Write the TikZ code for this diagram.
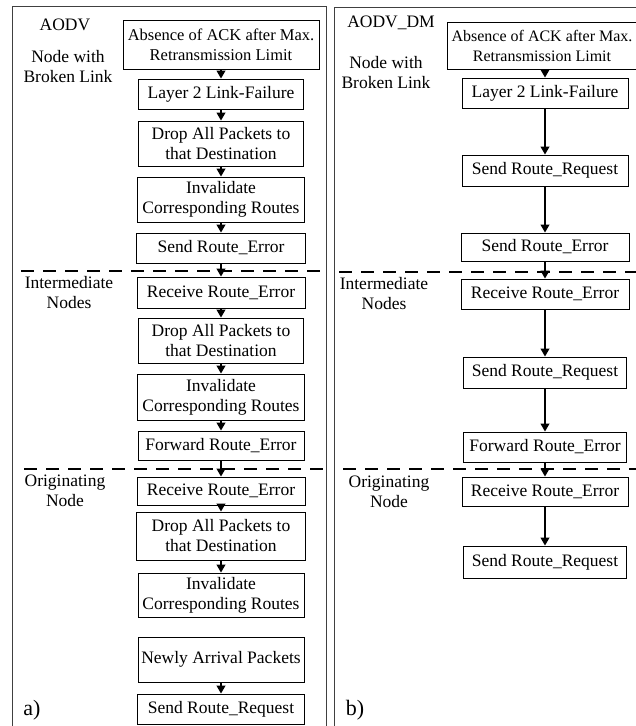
\documentclass[tikz,border=0pt]{standalone}
\usepackage{fontspec}
\setmainfont{Liberation Serif}
\usetikzlibrary{arrows.meta}
\begin{document}
\begin{tikzpicture}[x=1pt,y=-1pt,
  box/.style={draw, line width=1pt, inner sep=0pt, align=center, font=\fontsize{17.5}{20}\selectfont},
  wide/.style={font=\fontsize{16.5}{20}\selectfont},
  lbl/.style={align=center, inner sep=0pt, font=\fontsize{17.5}{20}\selectfont},
  big/.style={inner sep=0pt, font=\fontsize{22}{24}\selectfont},
  arr/.style={line width=1.1pt, -{Triangle[width=9pt,length=8pt]}},
  sep/.style={line width=1.2pt, dash pattern=on 13pt off 9pt},
  panel/.style={line width=0.9pt, draw=black!75}]
\useasboundingbox (0,0) rectangle (636,726);
\clip (0,0) rectangle (636,726);
\fill[white] (0,0) rectangle (636,726);
% panels
\draw[panel] (12,740) -- (12,6) -- (326,6) -- (326,740);
\draw[panel] (334,740) -- (334,7) -- (660,7);
% separators
\draw[sep] (21,271) -- (326,271);
\draw[sep] (24,469) -- (326,469);
\draw[sep] (339,272) -- (640,272);
\draw[sep] (343,469) -- (640,469);
% left labels
\node[lbl] (la) at (65,25) {AODV};
\node[lbl] (lb) at (68,67) {Node with\\Broken Link};
\node[lbl] (lc) at (69,292.5) {Intermediate\\Nodes};
\node[lbl] (ld) at (65,491) {Originating\\Node};
\node[big] (le) at (32,710) {a)};
% left boxes
\node[box, wide, minimum width=196pt, minimum height=49pt] (a1) at (221,44.5) {Absence of ACK after Max.\\Retransmission Limit};
\node[box, minimum width=165pt, minimum height=30pt] (a2) at (221,94) {Layer 2 Link-Failure};
\node[box, minimum width=165pt, minimum height=45pt] (a3) at (221,143.5) {Drop All Packets to\\that Destination};
\node[box, minimum width=167pt, minimum height=45pt] (a4) at (221,199.5) {Invalidate\\Corresponding Routes};
\node[box, minimum width=169pt, minimum height=30pt] (a5) at (221,248) {Send Route\_Error};
\node[box, minimum width=168pt, minimum height=31pt] (a6) at (221,292.5) {Receive Route\_Error};
\node[box, minimum width=165pt, minimum height=45pt] (a7) at (221,340.5) {Drop All Packets to\\that Destination};
\node[box, minimum width=167pt, minimum height=46pt] (a8) at (221,397) {Invalidate\\Corresponding Routes};
\node[box, minimum width=166pt, minimum height=29pt] (a9) at (221,445.5) {Forward Route\_Error};
\node[box, minimum width=168pt, minimum height=28pt] (a10) at (221,491) {Receive Route\_Error};
\node[box, minimum width=169pt, minimum height=48pt] (a11) at (221,536) {Drop All Packets to\\that Destination};
\node[box, minimum width=166pt, minimum height=44pt] (a12) at (221,595) {Invalidate\\Corresponding Routes};
\node[box, minimum width=166pt, minimum height=45pt] (a13) at (221,659.5) {Newly Arrival Packets};
\node[box, minimum width=167pt, minimum height=30pt] (a14) at (221,709) {Send Route\_Request};
\foreach \u/\v in {a1/a2,a2/a3,a3/a4,a4/a5,a5/a6,a6/a7,a7/a8,a8/a9,a9/a10,a10/a11,a11/a12,a13/a14}
  \draw[arr] (\u.south) -- (\v.north);
% right labels
\node[lbl] (ra) at (391,23) {AODV\_DM};
\node[lbl] (rb) at (386,72.5) {Node with\\Broken Link};
\node[lbl] (rc) at (384,294) {Intermediate\\Nodes};
\node[lbl] (rd) at (389,492) {Originating\\Node};
\node[big] (re) at (355,710) {b)};
% right boxes
\node[box, font=\fontsize{16}{20}\selectfont, minimum width=190pt, minimum height=47pt] (b1) at (542,45.5) {Absence of ACK after Max.\\Retransmission Limit};
\node[box, minimum width=166pt, minimum height=30pt] (b2) at (545,93) {Layer 2 Link-Failure};
\node[box, minimum width=166pt, minimum height=31pt] (b3) at (545,170.5) {Send Route\_Request};
\node[box, minimum width=168pt, minimum height=28pt] (b4) at (545,247) {Send Route\_Error};
\node[box, minimum width=168pt, minimum height=30pt] (b5) at (545,294) {Receive Route\_Error};
\node[box, minimum width=163pt, minimum height=31pt] (b6) at (545,372.5) {Send Route\_Request};
\node[box, minimum width=163pt, minimum height=30pt] (b7) at (545,447) {Forward Route\_Error};
\node[box, minimum width=166pt, minimum height=29pt] (b8) at (545,491.5) {Receive Route\_Error};
\node[box, minimum width=163pt, minimum height=32pt] (b9) at (545,562) {Send Route\_Request};
\draw[arr] (b1.south -| b2.north) -- (b2.north);
\foreach \u/\v in {b2/b3,b3/b4,b4/b5,b5/b6,b6/b7,b7/b8,b8/b9}
  \draw[arr] (\u.south) -- (\v.north);
\end{tikzpicture}
\end{document}
